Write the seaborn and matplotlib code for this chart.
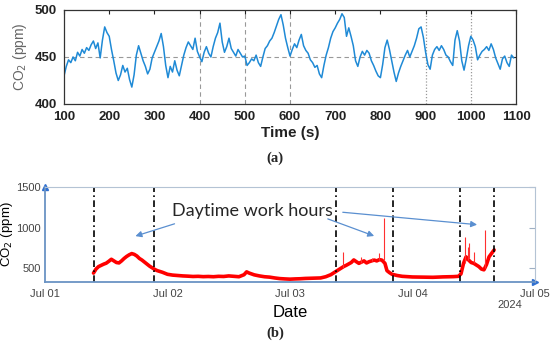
import numpy as np
import pandas as pd
import seaborn as sns
import matplotlib.pyplot as plt
import matplotlib.dates as mdates

sns.set_style('white')
plt.rcParams['font.family'] = ['Liberation Sans', 'DejaVu Sans']

# (a) CO2 over time, 5 s steps from 100 s
t_sec = np.arange(100, 1100, 5)
co2_a = [
    430, 440, 447, 444, 450, 446, 455, 451, 458, 454, 460, 457, 463, 467, 459, 465, 449, 468, 482, 476,
    472, 458, 446, 433, 425, 431, 441, 434, 438, 426, 418, 431, 452, 462, 454, 446, 440, 432, 437, 449,
    455, 461, 467, 475, 461, 441, 428, 440, 434, 446, 436, 430, 441, 452, 460, 466, 462, 458, 470, 456,
    450, 445, 455, 461, 454, 450, 461, 470, 476, 486, 466, 455, 461, 470, 459, 455, 451, 458, 454, 450,
    451, 441, 444, 448, 446, 452, 444, 440, 450, 459, 462, 467, 470, 476, 483, 490, 495, 484, 470, 460,
    451, 458, 464, 460, 468, 474, 462, 457, 454, 447, 444, 439, 441, 432, 428, 441, 452, 460, 470, 477,
    481, 486, 490, 496, 492, 472, 481, 472, 462, 446, 440, 450, 456, 452, 457, 454, 446, 441, 435, 430,
    428, 442, 460, 468, 458, 446, 434, 424, 433, 440, 446, 452, 457, 450, 456, 462, 470, 480, 482, 471,
    455, 442, 437, 452, 458, 461, 457, 462, 458, 452, 450, 445, 441, 468, 478, 467, 446, 436, 448, 462,
    472, 468, 461, 447, 452, 456, 458, 461, 457, 464, 458, 449, 443, 437, 448, 451, 444, 440, 452, 449,
]

# (b) CO2 over dates, hours from Jul 01 00:00
hours_b = [9.5, 10, 10.5, 11, 11.5, 12, 12.5, 13, 13.5, 14, 14.5, 15, 15.5, 16, 16.5, 17, 17.5, 18,
           18.5, 19, 19.5, 20, 20.5, 21, 21.5, 22, 23, 24, 25, 26, 27, 28, 29, 30, 31, 32, 33, 34,
           35, 36, 37, 38, 39, 39.5, 40, 41, 42, 43, 44, 45, 46, 47, 48, 49, 50, 51, 52, 53, 54,
           55, 56, 57, 58, 58.5, 59, 60, 60.5, 61, 61.5, 62, 62.5, 63, 63.5, 64, 64.5, 65, 65.5,
           66, 66.6, 67, 67.5, 68, 69, 70, 72, 74, 76, 78, 80, 81, 81.5, 82, 82.5, 83, 83.5, 84,
           85, 85.5, 86, 86.5, 87, 87.7, 88]
co2_b = [440, 490, 520, 535, 550, 562, 585, 610, 590, 570, 565, 590, 620, 645, 665, 680, 670, 650,
         620, 600, 575, 550, 525, 505, 485, 470, 450, 425, 415, 410, 405, 402, 398, 400, 396, 398,
         395, 400, 398, 405, 400, 395, 420, 455, 440, 418, 405, 395, 390, 380, 372, 368, 365, 368,
         370, 374, 376, 378, 380, 395, 420, 460, 500, 520, 535, 570, 602, 580, 560, 575, 590, 565,
         580, 590, 600, 590, 605, 600, 560, 470, 445, 425, 410, 400, 392, 390, 388, 393, 396, 400,
         430, 560, 640, 600, 570, 560, 520, 490, 480, 545, 640, 700, 725]
spike_hours = [58.3, 61.9, 64.0, 65.5, 66.5, 82.3, 82.8, 83.1, 84.0, 86.3]
spike_low = [500, 570, 585, 600, 600, 560, 600, 620, 560, 500]
spike_high = [705, 640, 625, 684, 1115, 890, 760, 808, 700, 971]
work_edges = [9.6, 21.4, 57.0, 68.1, 81.4, 88.0]

t0 = pd.Timestamp('2024-07-01')
df_a = pd.DataFrame({'t': t_sec, 'co2': co2_a})
df_b = pd.DataFrame({'date': t0 + pd.to_timedelta(hours_b, unit='h'), 'co2': co2_b})

fig = plt.figure(figsize=(5.5, 3.47), dpi=100)

# ---- panel (a)
ax1 = fig.add_axes([0.1164, 0.7003, 0.8218, 0.2709])
sns.lineplot(data=df_a, x='t', y='co2', ax=ax1, color='#1f8ad6', lw=1.1)
ax1.set_xlim(100, 1100)
ax1.set_ylim(400, 500)
ax1.set_xticks(range(100, 1101, 100))
ax1.set_yticks([400, 450, 500])
ax1.axhline(450, color='#999999', ls=(0, (4, 3)), lw=0.8, zorder=0)
for x in [400, 500, 600]:
    ax1.axvline(x, color='#999999', ls=(0, (4, 3)), lw=0.8, zorder=0)
for x in [900, 1000]:
    ax1.axvline(x, color='#999999', ls=(0, (1, 1.5)), lw=0.9, zorder=0)
ax1.tick_params(direction='in', length=3, top=True, right=True, labelsize=9.5,
                colors='#222222', pad=5)
for lab in ax1.get_xticklabels() + ax1.get_yticklabels():
    lab.set_fontweight('bold')
for s in ax1.spines.values():
    s.set_color('#333333')
    s.set_linewidth(0.9)
ax1.set_xlabel('Time (s)', fontsize=11, fontweight='bold', color='#222222', labelpad=2)
ax1.set_ylabel('CO$_2$ (ppm)', fontsize=10, color='#666666', labelpad=4)

# ---- panel (b)
ax2 = fig.add_axes([0.0818, 0.1873, 0.8909, 0.2738])
sns.lineplot(data=df_b, x='date', y='co2', ax=ax2, color='#ff0000', lw=2.6)
ax2.vlines(t0 + pd.to_timedelta(spike_hours, unit='h'), spike_low, spike_high,
           color='#ff3030', lw=0.8)
for h in work_edges:
    ax2.axvline(t0 + pd.Timedelta(hours=h), color='black', ls=(0, (4, 2, 1, 2)), lw=1.2)
ax2.set_xlim(t0, t0 + pd.Timedelta(days=4))
ax2.set_ylim(330, 1500)
ax2.set_yticks([500, 1000, 1500])
ax2.xaxis.set_major_locator(mdates.DayLocator())
ax2.xaxis.set_major_formatter(mdates.DateFormatter('%b %d'))
ax2.tick_params(axis='both', length=0, labelsize=8, colors='#444444', pad=5)
ax2.tick_params(axis='y', right=True, direction='in', length=4, color='#9fb0c4', pad=3)
for side in ['top', 'right']:
    ax2.spines[side].set_color('#b4c3d4')
for side in ['left', 'bottom']:
    ax2.spines[side].set_color('#6a93c4')
    ax2.spines[side].set_linewidth(1.3)
ax2.plot([0], [1], marker='^', color='#2f6fd0', ms=5, transform=ax2.transAxes, clip_on=False)
ax2.plot([1], [0], marker='>', color='#2f6fd0', ms=5, transform=ax2.transAxes, clip_on=False)
ax2.set_xlabel('Date', fontsize=12, color='black', labelpad=4)
ax2.set_ylabel('CO$_2$ (ppm)', fontsize=9.5, color='black', labelpad=1)

# annotation
ax2.text(t0 + pd.Timedelta(hours=24.9), 1200, 'Daytime work hours', fontsize=13,
         family=['Lato', 'DejaVu Sans'], va='center', ha='left')
arrow = dict(arrowstyle='-|>', color='#5a8fd0', lw=0.9, mutation_scale=9)
for (h0, y0), (h1, y1) in [((25.9, 1057), (17.2, 885)),
                           ((54.9, 1119), (65.0, 885)),
                           ((57.8, 1192), (85.2, 1033))]:
    ax2.annotate('', xy=(t0 + pd.Timedelta(hours=h1), y1),
                 xytext=(t0 + pd.Timedelta(hours=h0), y0), arrowprops=arrow)

fig.text(510 / 550, 1 - 305 / 347, '2024', fontsize=8, color='#444444', ha='center', va='center')
fig.text(275 / 550, 1 - 158 / 347, '(a)', fontsize=10.5, family=['Liberation Serif'],
         fontweight='bold', ha='center', va='center')
fig.text(275 / 550, 1 - 333 / 347, '(b)', fontsize=10.5, family=['Liberation Serif'],
         fontweight='bold', ha='center', va='center')

fig.savefig('out.png', dpi=100)
